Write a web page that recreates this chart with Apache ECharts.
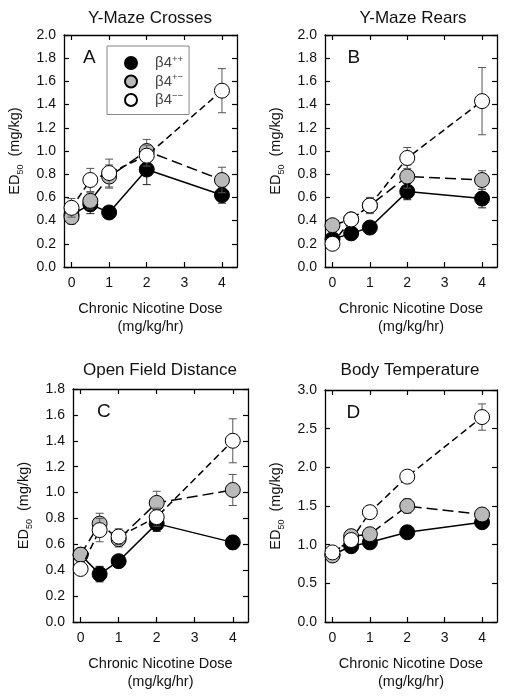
<!DOCTYPE html>
<html><head><meta charset="utf-8">
<script src="https://cdn.jsdelivr.net/npm/echarts@6/dist/echarts.min.js"></script>
<style>html,body{margin:0;padding:0;background:#fff}#c{width:512px;height:696px}</style>
</head><body><div id="c"></div>
<script>
// ---- data ----
const doses = [0, 0.5, 1, 2, 4];
const xTicks = [0, 1, 2, 3, 4];
const panelTitles = ['Y-Maze Crosses', 'Y-Maze Rears', 'Open Field Distance', 'Body Temperature'];
const panelLetters = ['A', 'B', 'C', 'D'];
const seriesNames = ['β4++', 'β4+-', 'β4--'];
const yMax = [2.0, 2.0, 1.8, 3.0];
const yInterval = [0.2, 0.2, 0.2, 0.5];

// Panel A: Y-Maze Crosses
const aPP = [0.45, 0.54, 0.47, 0.84, 0.62];
const aPPerr = [0.04, 0.08, 0.03, 0.13, 0.07];
const aPM = [0.43, 0.57, 0.78, 1.00, 0.75];
const aPMerr = [0.06, 0.07, 0.10, 0.10, 0.11];
const aMM = [0.51, 0.75, 0.81, 0.96, 1.52];
const aMMerr = [0.08, 0.10, 0.12, 0.09, 0.19];
// Panel B: Y-Maze Rears
const bPP = [0.24, 0.29, 0.34, 0.65, 0.59];
const bPPerr = [0.03, 0.03, 0.03, 0.07, 0.08];
const bPM = [0.36, 0.41, 0.53, 0.78, 0.75];
const bPMerr = [0.03, 0.04, 0.05, 0.10, 0.08];
const bMM = [0.20, 0.41, 0.53, 0.94, 1.43];
const bMMerr = [0.03, 0.05, 0.07, 0.09, 0.29];
// Panel C: Open Field Distance
const cPP = [0.52, 0.37, 0.47, 0.76, 0.615];
const cPPerr = [0.04, 0.06, 0.03, 0.06, 0.05];
const cPM = [0.52, 0.76, 0.64, 0.92, 1.02];
const cPMerr = [0.05, 0.08, 0.06, 0.09, 0.12];
const cMM = [0.41, 0.71, 0.66, 0.81, 1.40];
const cMMerr = [0.03, 0.09, 0.06, 0.07, 0.17];
// Panel D: Body Temperature
const dPP = [0.87, 0.98, 1.03, 1.16, 1.29];
const dPPerr = [0.03, 0.03, 0.03, 0.04, 0.04];
const dPM = [0.86, 1.11, 1.135, 1.50, 1.39];
const dPMerr = [0.04, 0.04, 0.05, 0.09, 0.05];
const dMM = [0.90, 1.06, 1.42, 1.88, 2.65];
const dMMerr = [0.04, 0.04, 0.08, 0.08, 0.17];

const panelValues = [[aPP, aPM, aMM], [bPP, bPM, bMM], [cPP, cPM, cMM], [dPP, dPM, dMM]];
const panelErrors = [[aPPerr, aPMerr, aMMerr], [bPPerr, bPMerr, bMMerr], [cPPerr, cPMerr, cMMerr], [dPPerr, dPMerr, dMMerr]];

// ---- layout / style ----
const grids = [
  {left: 64, top: 35, width: 173, height: 232},
  {left: 325, top: 35, width: 172, height: 232},
  {left: 73, top: 389, width: 175, height: 233},
  {left: 325, top: 390, width: 172, height: 232}
];
const titlePos = [[150, 10], [413, 10], [160, 362], [410, 362]];
const letterOffsetX = [19, 22.5, 24, 21.5];
const fills = ['#000000', '#b9b9b9', '#ffffff'];
const dashes = ['solid', [11, 5], [7, 4]];
const errColors = ['#222', '#555', '#555'];
const FONT = 'Liberation Sans';

const opt = {
  animation: false,
  backgroundColor: '#fff',
  title: [], grid: [], xAxis: [], yAxis: [], series: [], graphic: [],
  legend: {
    data: seriesNames,
    orient: 'vertical', left: 107, top: 46,
    padding: [8, 6, 7, 17],
    itemGap: 2, itemWidth: 12, itemHeight: 12,
    icon: 'circle',
    borderColor: '#888', borderWidth: 1, backgroundColor: '#fff',
    selectedMode: false,
    formatter: n => '{b|β4}{s|' + n.slice(2).replace(/-/g, '−') + '}',
    textStyle: {
      padding: [0, 0, 0, 13],
      rich: {
        b: {fontFamily: FONT, fontSize: 15, color: '#444', lineHeight: 18},
        s: {fontFamily: FONT, fontSize: 9.5, color: '#444', lineHeight: 18, verticalAlign: 'top'}
      }
    }
  }
};

grids.forEach((g, i) => {
  opt.grid.push(Object.assign({containLabel: false}, g));
  opt.title.push({
    text: panelTitles[i], left: titlePos[i][0], top: titlePos[i][1], textAlign: 'center', padding: 0,
    textStyle: {fontFamily: FONT, fontSize: 17, fontWeight: 'normal', color: '#111'}
  });
  opt.title.push({
    text: panelLetters[i], left: g.left + letterOffsetX[i], top: g.top + 13, padding: 0,
    textStyle: {fontFamily: FONT, fontSize: 19, fontWeight: 'normal', color: '#111'}
  });
  const axLine = {show: true, onZero: false, lineStyle: {color: '#000', width: 1.3}};
  const tick = {show: true, inside: true, length: 5, lineStyle: {color: '#000', width: 1.2}};
  // bottom x
  opt.xAxis.push({
    type: 'value', gridIndex: i, min: -0.2, max: 4.4, position: 'bottom',
    axisLine: axLine, splitLine: {show: false},
    axisTick: Object.assign({customValues: xTicks}, tick),
    axisLabel: {customValues: xTicks, margin: 9, fontFamily: FONT, fontSize: 14, color: '#111'},
    name: 'Chronic Nicotine Dose\n(mg/kg/hr)', nameLocation: 'middle', nameGap: 33,
    nameTextStyle: {fontFamily: FONT, fontSize: 14.5, color: '#111', lineHeight: 18, verticalAlign: 'top'}
  });
  // top x (mirror)
  opt.xAxis.push({
    type: 'value', gridIndex: i, min: -0.2, max: 4.4, position: 'top',
    axisLine: axLine, splitLine: {show: false},
    axisTick: Object.assign({customValues: xTicks}, tick),
    axisLabel: {show: false}
  });
  // left y
  opt.yAxis.push({
    type: 'value', gridIndex: i, min: 0, max: yMax[i], interval: yInterval[i], position: 'left',
    axisLine: axLine, splitLine: {show: false}, axisTick: tick,
    axisLabel: {margin: 8, fontFamily: FONT, fontSize: 14, color: '#111', formatter: v => v.toFixed(1)},
    name: '{a|ED}{b|50}{a|  (mg/kg)}', nameLocation: 'middle', nameRotate: 90, nameGap: 39,
    nameTextStyle: {
      rich: {
        a: {fontFamily: FONT, fontSize: 14.5, color: '#111', lineHeight: 20},
        b: {fontFamily: FONT, fontSize: 9, color: '#111', lineHeight: 12, verticalAlign: 'bottom'}
      }
    }
  });
  // right y (mirror)
  opt.yAxis.push({
    type: 'value', gridIndex: i, min: 0, max: yMax[i], interval: yInterval[i], position: 'right',
    axisLine: axLine, splitLine: {show: false}, axisTick: tick, axisLabel: {show: false}
  });

  // error bars then lines
  for (let s = 0; s < 3; s++) {
    const vals = panelValues[i][s], errs = panelErrors[i][s];
    const col = errColors[s];
    opt.series.push({
      type: 'custom', xAxisIndex: i * 2, yAxisIndex: i * 2, z: 1 + s * 2, silent: true,
      data: doses.map((d, k) => [d, vals[k] - errs[k], vals[k] + errs[k]]),
      encode: {x: 0, y: [1, 2]},
      renderItem: (params, api) => {
        const x = api.value(0);
        const p1 = api.coord([x, api.value(1)]);
        const p2 = api.coord([x, api.value(2)]);
        const w = 4;
        const st = {stroke: col, lineWidth: 1};
        return {type: 'group', children: [
          {type: 'line', shape: {x1: p1[0], y1: p1[1], x2: p2[0], y2: p2[1]}, style: st},
          {type: 'line', shape: {x1: p1[0] - w, y1: p1[1], x2: p1[0] + w, y2: p1[1]}, style: st},
          {type: 'line', shape: {x1: p2[0] - w, y1: p2[1], x2: p2[0] + w, y2: p2[1]}, style: st}
        ]};
      }
    });
    opt.series.push({
      type: 'line', name: seriesNames[s], xAxisIndex: i * 2, yAxisIndex: i * 2, z: 2 + s * 2,
      data: doses.map((d, k) => [d, vals[k]]),
      symbol: 'circle', symbolSize: 15, showSymbol: true,
      lineStyle: {color: '#000', width: 1.5, type: dashes[s]},
      itemStyle: {color: fills[s], borderColor: '#000', borderWidth: 1},
      emphasis: {disabled: true}
    });
  }
});

const chart = echarts.init(document.getElementById('c'), null, {renderer: 'canvas'});
chart.setOption(opt);
</script>
</body></html>
